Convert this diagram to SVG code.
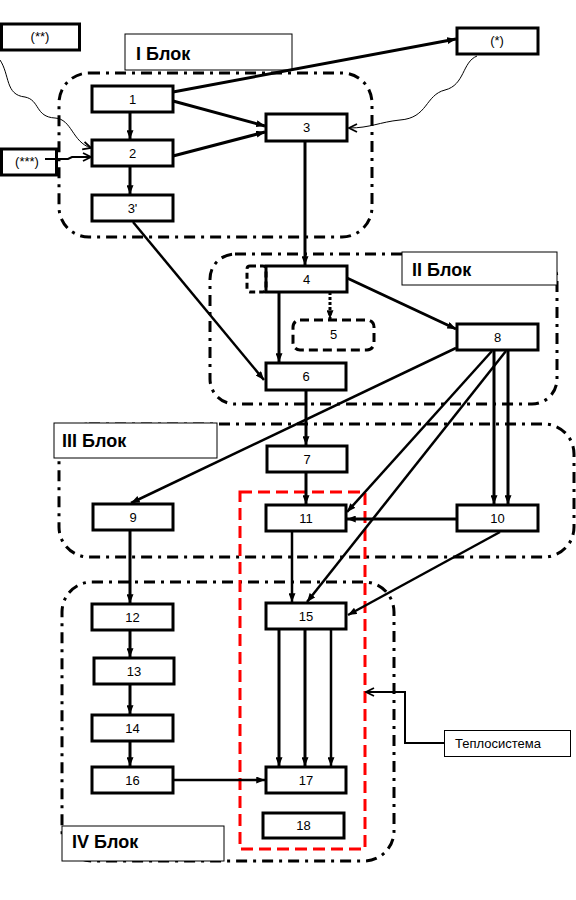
<svg xmlns="http://www.w3.org/2000/svg" width="576" height="900" viewBox="0 0 576 900">
<defs>
<marker id="ah" viewBox="0 0 10 8" markerWidth="9" markerHeight="7" refX="10" refY="4" orient="auto" markerUnits="userSpaceOnUse">
<path d="M0,0 L10,4 L0,8 z" fill="#000"/>
</marker>
<marker id="oh" viewBox="0 0 10 10" markerWidth="10" markerHeight="10" refX="9" refY="5" orient="auto" markerUnits="userSpaceOnUse">
<path d="M1,1 L9,5 L1,9" fill="none" stroke="#000" stroke-width="1.8"/>
</marker>
<style>
.blk{fill:none;stroke:#000;stroke-width:3;stroke-dasharray:11 6 3 6}
.lbl rect{fill:#fff;stroke:#000;stroke-width:1}
.lbl text{font-family:"Liberation Sans",Arial,sans-serif;font-size:18px;font-weight:bold;fill:#000}
.node rect{fill:#fff;stroke:#000;stroke-width:3}
.node text{font-family:"Liberation Sans",Arial,sans-serif;font-size:13px;fill:#000;text-anchor:middle}
.c{fill:none;stroke:#000;stroke-width:3;marker-end:url(#ah)}
.t{stroke-width:2.5}
.w{fill:none;stroke:#000;stroke-width:1;marker-end:url(#oh)}
</style>
</defs>
<rect width="576" height="900" fill="#fff"/>
<g id="blocks">
<rect class="blk" x="59" y="73" width="313" height="164" rx="30"/>
<rect class="blk" x="210" y="254" width="347" height="150" rx="25"/>
<rect class="blk" x="59" y="424" width="515" height="133" rx="30"/>
<rect class="blk" x="62" y="582" width="332" height="279" rx="30"/>
</g>
<g id="labels" class="lbl">
<rect x="125" y="34" width="167" height="36"/><text x="136" y="60">I Блок</text>
<rect x="402" y="252" width="155" height="33"/><text x="412" y="276">II Блок</text>
<rect x="54" y="423" width="163" height="35"/><text x="62" y="447">III Блок</text>
<rect x="62" y="826" width="162" height="35"/><text x="72" y="848">IV Блок</text>
</g>
<g id="heat-system-frame">
<rect x="240" y="492" width="125" height="357" fill="none" stroke="#ff0000" stroke-width="3" stroke-dasharray="12 6"/>
</g>
<g id="n-ss" class="node"><rect x="1.5" y="24" width="78" height="26"/><text x="40" y="41">(**)</text></g>
<g id="n-s" class="node"><rect x="457" y="28" width="81" height="26"/><text x="497" y="45">(*)</text></g>
<g id="n-sss" class="node"><rect x="1.5" y="149" width="55" height="26"/><text x="27" y="166">(***)</text></g>
<g id="n1" class="node"><rect x="92" y="86" width="81" height="26"/><text x="132.5" y="104">1</text></g>
<g id="n2" class="node"><rect x="92" y="140" width="81" height="26"/><text x="132.5" y="158">2</text></g>
<g id="n3p" class="node"><rect x="92" y="195" width="81" height="26"/><text x="132.5" y="213">3'</text></g>
<g id="n3" class="node"><rect x="266" y="114" width="81" height="27"/><text x="306.5" y="132">3</text></g>
<g id="n4" class="node"><rect x="266" y="266" width="81" height="26"/><text x="306.5" y="284">4</text></g>
<g id="n4a"><rect x="247" y="266" width="19" height="26" rx="3" fill="none" stroke="#000" stroke-width="3" stroke-dasharray="6 4"/></g>
<g id="n5" class="node"><rect x="293" y="320" width="81" height="30" rx="7" style="stroke-dasharray:9 5"/><text x="333.5" y="339">5</text></g>
<g id="n6" class="node"><rect x="266" y="363" width="80" height="27"/><text x="306" y="381">6</text></g>
<g id="n7" class="node"><rect x="267" y="446" width="80" height="26"/><text x="307" y="464">7</text></g>
<g id="n8" class="node"><rect x="457" y="324" width="81" height="26"/><text x="497.5" y="342">8</text></g>
<g id="n9" class="node"><rect x="93" y="504" width="80" height="26"/><text x="133" y="522">9</text></g>
<g id="n10" class="node"><rect x="457" y="505" width="81" height="26"/><text x="497.5" y="523">10</text></g>
<g id="n11" class="node"><rect x="266" y="505" width="80" height="26"/><text x="306" y="523">11</text></g>
<g id="n12" class="node"><rect x="92" y="604" width="81" height="26"/><text x="132.5" y="622">12</text></g>
<g id="n13" class="node"><rect x="94" y="658" width="80" height="26"/><text x="134" y="676">13</text></g>
<g id="n14" class="node"><rect x="92" y="715" width="81" height="26"/><text x="132.5" y="733">14</text></g>
<g id="n15" class="node"><rect x="266" y="603" width="80" height="26"/><text x="306" y="621">15</text></g>
<g id="n16" class="node"><rect x="92" y="767" width="81" height="26"/><text x="132.5" y="785">16</text></g>
<g id="n17" class="node"><rect x="266" y="767" width="80" height="26"/><text x="306" y="785">17</text></g>
<g id="n18" class="node"><rect x="263" y="813" width="81" height="25"/><text x="303.5" y="830">18</text></g>
<g id="n-heat"><rect x="444.5" y="730.5" width="126" height="26" fill="#fff" stroke="#000" stroke-width="1"/><text x="455" y="748" font-family="Liberation Sans, Arial, sans-serif" font-size="13" fill="#000">Теплосистема</text></g>
<g id="connectors">
<path class="c" d="M130,112 V139"/>
<path class="c" d="M130,166 V194"/>
<path class="c" d="M173,101 L265,126"/>
<path class="c" d="M173,156 L265,132"/>
<path class="c" d="M173,92 L456,39"/>
<path class="c t" d="M133,222 L264,380"/>
<path class="c" d="M305,141 V265"/>
<path class="c" d="M279,292 V362"/>
<path class="c" style="stroke-dasharray:3 2" d="M330,292 V319"/>
<path class="c" d="M347,278 L456,329"/>
<path class="c" d="M306,390 V445"/>
<path class="c" d="M306,472 V504"/>
<path class="c t" d="M456,348 L131,503"/>
<path class="c t" d="M492,351 L347,512"/>
<path class="c t" d="M506,351 L307,602"/>
<path class="c" d="M494,351 V504"/>
<path class="c" d="M508,351 V504"/>
<path class="c" d="M456,519 H347"/>
<path class="c t" d="M500,532 L348,615"/>
<path class="c t" d="M292,532 V602"/>
<path class="c" d="M279,630 V766"/>
<path class="c" d="M305,630 V766"/>
<path class="c t" d="M331,630 V766"/>
<path class="c" d="M130,531 V603"/>
<path class="c" d="M130,631 V657"/>
<path class="c" d="M130,685 V714"/>
<path class="c" d="M130,742 V766"/>
<path class="c t" d="M174,780 H265"/>
<path class="w" d="M0,60 C10,75 5,95 25,97 C40,100 35,117 55,118 C72,119 72,142 91,148"/>
<path class="w" d="M477,56 C462,62 465,85 445,90 C425,95 428,118 400,120 C380,122 370,128 349,128"/>
<path class="w" style="stroke-width:2" d="M45,159 H68 L72,157 H91"/>
<path class="w" style="stroke-width:2" d="M444,743 H405 V692 H366"/>
</g>
</svg>
